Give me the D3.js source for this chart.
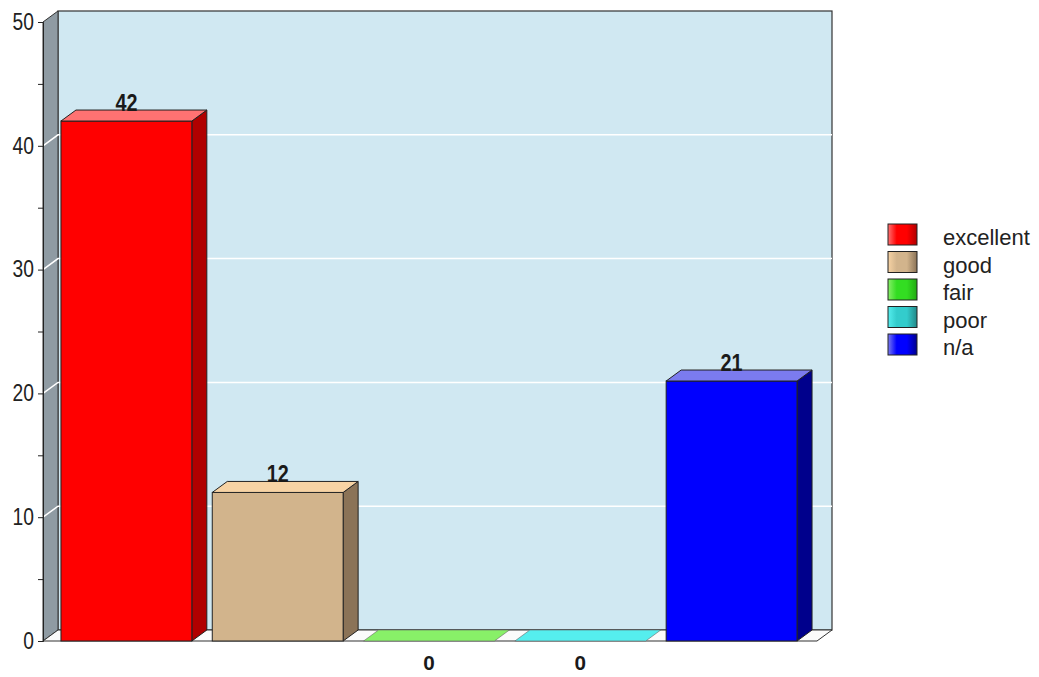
<!DOCTYPE html>
<html>
<head>
<meta charset="utf-8">
<script src="https://cdn.jsdelivr.net/npm/d3@7"></script>
<style>
  body { margin: 0; background: #fff; }
  svg { display: block; font-family: "Liberation Sans", Arial, sans-serif; }
</style>
</head>
<body>
<script>
// data
var categories = ['excellent', 'good', 'fair', 'poor', 'n/a'];
var values = [42, 12, 0, 0, 21];
var frontColors = ['#ff0000', '#d2b48c', '#33dd22', '#33cccc', '#0000ff'];
var sideColors = ['#b00000', '#8b7357', '#22aa11', '#228888', '#00008c'];
var topColors = ['#ff7272', '#f7d3a4', '#88f068', '#55eeee', '#7b7bef'];
var yTicks = [0, 10, 20, 30, 40, 50];
var yMinorTicks = [5, 15, 25, 35, 45];

var width = 1039, height = 677;
var depth = { x: 15, y: -11 };
var plot = { left: 43, right: 817 };

var svg = d3.select('body').append('svg')
    .attr('width', width)
    .attr('height', height);

var y = d3.scaleLinear().domain([0, 50]).range([641, 22]);
var x = d3.scaleBand()
    .domain(categories)
    .range([50.75, 807.25])
    .paddingInner(0.135)
    .paddingOuter(0.0675);

function pts(arr) {
    return arr.map(function(p) { return p.join(','); }).join(' ');
}

// gradients for legend swatches
var defs = svg.append('defs');
categories.forEach(function(c, i) {
    var g = defs.append('linearGradient').attr('id', 'lg' + i);
    g.append('stop').attr('offset', '0%').attr('stop-color', topColors[i]);
    g.append('stop').attr('offset', '30%').attr('stop-color', frontColors[i]);
    g.append('stop').attr('offset', '65%').attr('stop-color', frontColors[i]);
    g.append('stop').attr('offset', '100%').attr('stop-color', sideColors[i]);
});

var y0 = y(0), y50 = y(50);

// back wall
svg.append('rect')
    .attr('x', plot.left + depth.x)
    .attr('y', y50 + depth.y)
    .attr('width', plot.right - plot.left)
    .attr('height', y0 - y50)
    .attr('fill', '#d0e8f2')
    .attr('stroke', '#333')
    .attr('stroke-width', 1.2);

// left wall
svg.append('polygon')
    .attr('points', pts([[plot.left, y0], [plot.left, y50],
        [plot.left + depth.x, y50 + depth.y], [plot.left + depth.x, y0 + depth.y]]))
    .attr('fill', '#8f9ba3')
    .attr('stroke', '#333')
    .attr('stroke-width', 1);

// floor
svg.append('polygon')
    .attr('points', pts([[plot.left, y0], [plot.right, y0],
        [plot.right + depth.x, y0 + depth.y], [plot.left + depth.x, y0 + depth.y]]))
    .attr('fill', '#fbfbfb')
    .attr('stroke', '#333')
    .attr('stroke-width', 1);

// gridlines
svg.selectAll('.grid')
    .data(yTicks.filter(function(d) { return d > 0 && d < 50; }))
    .enter().append('polyline')
    .attr('class', 'grid')
    .attr('points', function(d) {
        return pts([[plot.left, y(d)], [plot.left + depth.x, y(d) + depth.y],
            [plot.right + depth.x, y(d) + depth.y]]);
    })
    .attr('fill', 'none')
    .attr('stroke', '#ffffff')
    .attr('stroke-width', 1.5);

// bars
var bars = svg.selectAll('.bar')
    .data(categories)
    .enter().append('g')
    .attr('class', 'bar');

bars.each(function(c, i) {
    var g = d3.select(this);
    var x0 = x(c), x1 = x(c) + x.bandwidth(), yt = y(values[i]);
    if (values[i] > 0) {
        g.append('polygon')
            .attr('points', pts([[x1, yt], [x1 + depth.x, yt + depth.y],
                [x1 + depth.x, y0 + depth.y], [x1, y0]]))
            .attr('fill', sideColors[i])
            .attr('stroke', '#222');
        g.append('rect')
            .attr('x', x0).attr('y', yt)
            .attr('width', x.bandwidth()).attr('height', y0 - yt)
            .attr('fill', frontColors[i])
            .attr('stroke', '#222');
    }
    g.append('polygon')
        .attr('points', pts([[x0, yt], [x0 + depth.x, yt + depth.y],
            [x1 + depth.x, yt + depth.y], [x1, yt]]))
        .attr('fill', topColors[i])
        .attr('stroke', values[i] > 0 ? '#222' : '#666')
        .attr('stroke-width', values[i] > 0 ? 1 : 0.6);
});

// value labels (tall, narrow glyphs like the original)
bars.append('text')
    .attr('x', function(c) { return x(c) + x.bandwidth() / 2; })
    .attr('y', function(c, i) { return values[i] > 0 ? y(values[i]) + depth.y + 1 : 670; })
    .attr('text-anchor', 'middle')
    .attr('font-size', function(c, i) { return values[i] > 0 ? 24 : 21; })
    .attr('font-weight', 'bold')
    .attr('fill', '#1a1a1a')
    .attr('textLength', function(c, i) { return String(values[i]).length * (values[i] > 0 ? 11 : 11.5); })
    .attr('lengthAdjust', 'spacingAndGlyphs')
    .text(function(c, i) { return values[i]; });

// y axis
var axis = svg.append('g')
    .attr('transform', 'translate(' + plot.left + ',0)')
    .call(d3.axisLeft(y)
        .tickValues(yTicks.concat(yMinorTicks).sort(d3.ascending))
        .tickSize(5)
        .tickPadding(4)
        .tickFormat(function(d) { return d % 10 === 0 ? d : ''; }));
axis.select('.domain').attr('stroke', '#222');
axis.selectAll('.tick line').attr('stroke', '#222');
axis.selectAll('.tick text')
    .attr('font-size', 23)
    .attr('font-family', '"Liberation Sans", Arial, sans-serif')
    .attr('fill', '#222')
    .attr('textLength', function(d) { return d % 10 === 0 ? String(d).length * 10.7 : null; })
    .attr('lengthAdjust', 'spacingAndGlyphs');

// legend
var legend = svg.append('g').attr('transform', 'translate(888,224)');
var items = legend.selectAll('.item')
    .data(categories)
    .enter().append('g')
    .attr('class', 'item')
    .attr('transform', function(d, i) { return 'translate(0,' + (i * 27.5) + ')'; });
items.append('rect')
    .attr('width', 29).attr('height', 21)
    .attr('fill', function(d, i) { return 'url(#lg' + i + ')'; })
    .attr('stroke', '#222');
items.append('text')
    .attr('x', 55).attr('y', 21)
    .attr('font-size', 22)
    .attr('fill', '#222')
    .text(function(d) { return d; });
</script>
</body>
</html>
